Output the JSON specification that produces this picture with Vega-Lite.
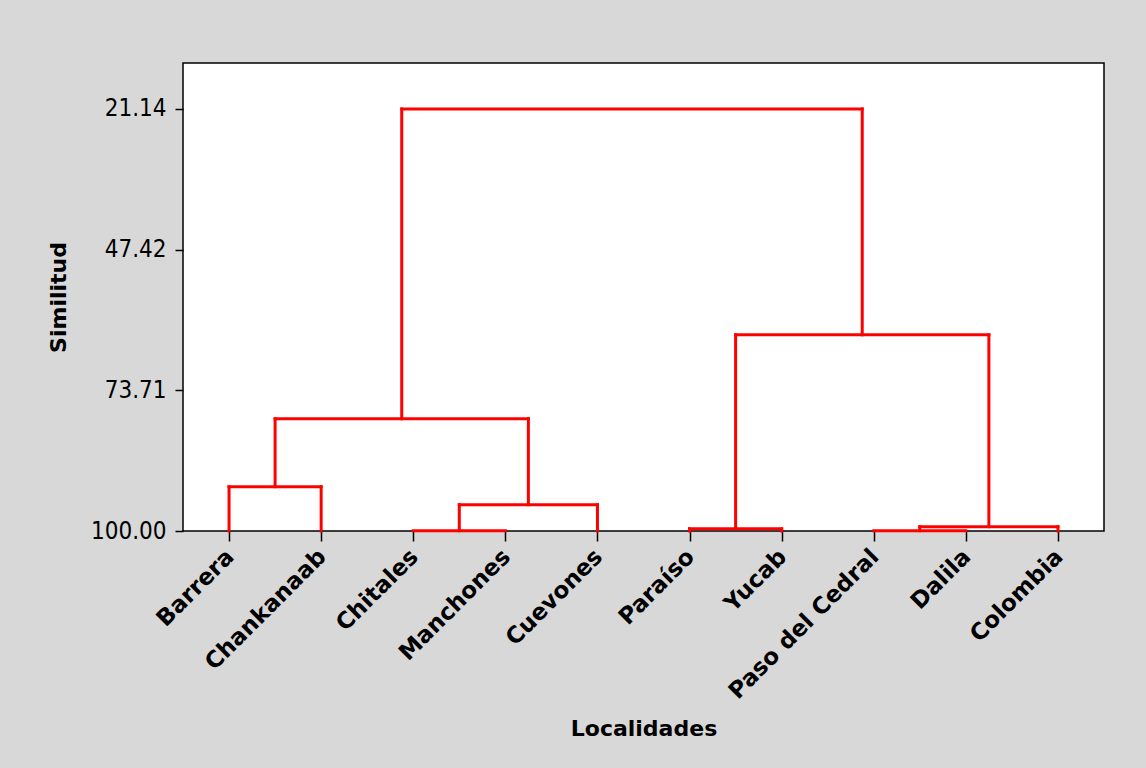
{
  "$schema": "https://vega.github.io/schema/vega-lite/v6.json",
  "autosize": {"type": "none"},
  "width": 921,
  "height": 468,
  "padding": {"left": 183, "top": 63, "right": 42, "bottom": 237},
  "background": "#d8d8d8",
  "config": {
    "view": {"fill": "white", "stroke": "black", "strokeWidth": 1.5},
    "axis": {"font": "DejaVu Sans", "labelFont": "DejaVu Sans", "titleFont": "DejaVu Sans", "labelColor": "black", "titleColor": "black", "tickColor": "black", "domain": false, "grid": false, "tickWidth": 1.5}
  },
  "data": {
    "values": [
      {"x": 1, "x2": 1, "y": 100, "y2": 91.73},
      {"x": 2, "x2": 2, "y": 100, "y2": 91.73},
      {"x": 1, "x2": 2, "y": 91.73, "y2": 91.73},
      {"x": 3, "x2": 4, "y": 99.95, "y2": 99.95},
      {"x": 3.5, "x2": 3.5, "y": 99.95, "y2": 95.09},
      {"x": 5, "x2": 5, "y": 100, "y2": 95.09},
      {"x": 3.5, "x2": 5, "y": 95.09, "y2": 95.09},
      {"x": 1.5, "x2": 1.5, "y": 91.73, "y2": 79.03},
      {"x": 4.25, "x2": 4.25, "y": 95.09, "y2": 79.03},
      {"x": 1.5, "x2": 4.25, "y": 79.03, "y2": 79.03},
      {"x": 6, "x2": 6, "y": 100, "y2": 99.6},
      {"x": 7, "x2": 7, "y": 100, "y2": 99.6},
      {"x": 6, "x2": 7, "y": 99.6, "y2": 99.6},
      {"x": 8, "x2": 9, "y": 99.95, "y2": 99.95},
      {"x": 8.5, "x2": 8.5, "y": 99.95, "y2": 99.2},
      {"x": 10, "x2": 10, "y": 100, "y2": 99.2},
      {"x": 8.5, "x2": 10, "y": 99.2, "y2": 99.2},
      {"x": 6.5, "x2": 6.5, "y": 99.6, "y2": 63.34},
      {"x": 9.25, "x2": 9.25, "y": 99.2, "y2": 63.34},
      {"x": 6.5, "x2": 9.25, "y": 63.34, "y2": 63.34},
      {"x": 2.875, "x2": 2.875, "y": 79.03, "y2": 21.14},
      {"x": 7.875, "x2": 7.875, "y": 63.34, "y2": 21.14},
      {"x": 2.875, "x2": 7.875, "y": 21.14, "y2": 21.14}
    ]
  },
  "mark": {"type": "rule", "color": "#ff0000", "strokeWidth": 3, "strokeCap": "square"},
  "encoding": {
    "x": {
      "field": "x", "type": "quantitative",
      "scale": {"domain": [0.5, 10.5], "nice": false, "zero": false},
      "axis": {
        "title": "Localidades", "titleFontSize": 22, "titleFontWeight": "bold", "titlePadding": 15,
        "values": [1, 2, 3, 4, 5, 6, 7, 8, 9, 10],
        "labelExpr": "['Barrera','Chankanaab','Chitales','Manchones','Cuevones','Paraíso','Yucab','Paso del Cedral','Dalila','Colombia'][datum.value - 1]",
        "labelAngle": -45, "labelFontSize": 23, "labelFontWeight": "bold", "tickSize": 10, "labelPadding": 4, "labelOffset": -7,
        "labelOverlap": false, "labelBound": false, "labelFlush": false, "labelLimit": 0
      }
    },
    "x2": {"field": "x2"},
    "y": {
      "field": "y", "type": "quantitative",
      "scale": {"domain": [12.55, 100], "nice": false, "zero": false, "reverse": true},
      "axis": {
        "title": "Similitud", "titleFontSize": 22, "titleFontWeight": "bold", "titlePadding": 20,
        "values": [21.14, 47.42, 73.71, 100], "format": ".2f",
        "labelFont": "DejaVu Sans Condensed, DejaVu Sans",
        "labelFontSize": 24, "tickSize": 8, "labelPadding": 9
      }
    },
    "y2": {"field": "y2"}
  }
}
